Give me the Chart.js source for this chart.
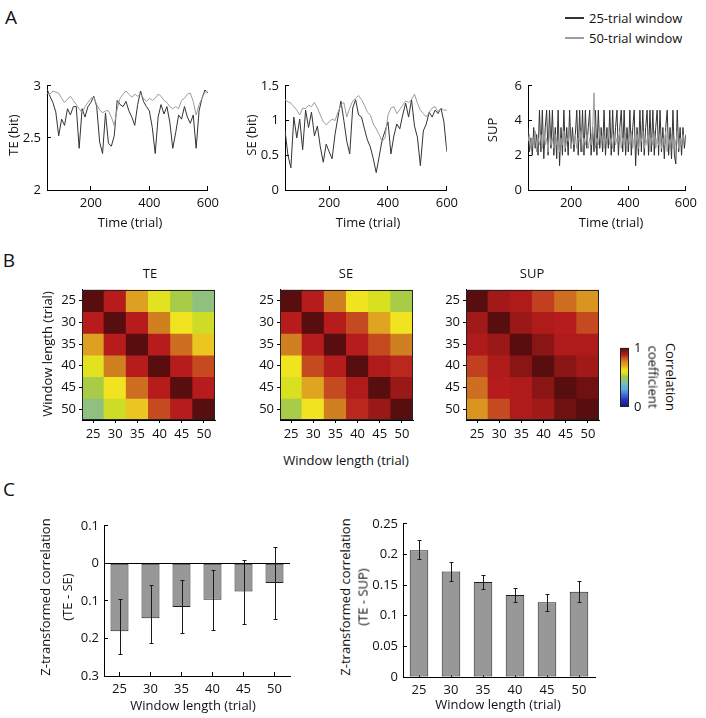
<!DOCTYPE html>
<html>
<head>
<meta charset="utf-8">
<script src="https://cdn.jsdelivr.net/npm/chart.js@4.4.1/dist/chart.umd.min.js"></script>
<style>
  body { margin: 0; background: #fff; }
  #fig { position: relative; width: 706px; height: 718px; overflow: hidden; font-family: 'Open Sans', sans-serif; color: #111; }
  #fig canvas { position: absolute; }
  .t { position: absolute; white-space: nowrap; font-size: 13px; line-height: 1; transform: translate(-50%, -50%); }
  .t.ccw { transform: translate(-50%, -50%) rotate(-90deg); }
  .t.cw { transform: translate(-50%, -50%) rotate(90deg); }
  .t.panel { font-size: 19px; }
  .t.left { transform: translate(0, -50%); }
  .leg { position: absolute; width: 19px; height: 2px; }
</style>
</head>
<body>
<div id="fig"></div>
<script>
// ---- data ----
const trials = [50,60,70,80,90,100,110,120,130,140,150,160,170,180,190,200,210,220,230,240,250,260,270,280,290,300,
  310,320,330,340,350,360,370,380,390,400,410,420,430,440,450,460,470,480,490,500,510,520,530,540,550,560,570,580,590,600];
const te25 = [2.97,2.90,2.84,2.75,2.52,2.68,2.62,2.78,2.72,2.80,
  2.80,2.40,2.78,2.70,2.80,2.84,2.90,2.80,2.46,2.35,
  2.74,2.45,2.42,2.52,2.86,2.82,2.80,2.85,2.76,2.70,
  2.62,2.82,2.95,2.85,2.80,2.76,2.60,2.35,2.70,2.82,
  2.73,2.80,2.65,2.40,2.55,2.72,2.68,2.80,2.70,2.64,
  2.72,2.40,2.76,2.88,2.96,2.93];
const te50 = [2.93,2.92,2.95,2.94,2.93,2.88,2.84,2.87,2.90,2.86,
  2.82,2.78,2.74,2.80,2.84,2.88,2.89,2.82,2.77,2.74,
  2.76,2.76,2.70,2.62,2.78,2.88,2.92,2.95,2.92,2.89,
  2.92,2.90,2.92,2.88,2.85,2.88,2.86,2.88,2.92,2.90,
  2.86,2.84,2.80,2.78,2.80,2.78,2.86,2.88,2.92,2.93,
  2.85,2.72,2.82,2.88,2.94,2.95];
const se25 = [0.86,0.50,0.32,1.05,0.75,1.02,0.58,1.15,0.90,1.12,
  0.78,0.92,0.62,0.40,0.66,0.55,0.45,0.80,1.05,1.28,
  1.00,0.70,0.52,1.18,1.30,1.08,1.05,0.88,0.72,0.62,
  0.45,0.25,0.48,0.72,0.85,0.98,0.52,0.78,0.95,0.88,
  1.08,1.25,1.05,1.30,0.92,0.76,0.35,0.85,0.95,1.12,
  1.05,1.15,1.10,1.18,0.98,0.55];
const se50 = [1.30,1.27,1.25,1.20,1.15,1.08,1.18,1.17,1.22,1.20,
  1.26,1.18,1.08,0.98,0.94,0.98,1.02,1.00,1.12,1.22,
  1.26,1.05,1.18,1.28,1.32,1.36,1.30,1.22,1.12,1.08,
  0.95,0.88,0.80,0.70,0.75,1.08,1.18,1.20,1.10,1.16,
  1.22,1.28,1.26,1.30,1.38,1.25,1.15,1.10,1.05,1.12,
  1.18,1.20,1.12,1.18,1.15,1.15];

const supTrials = [50,55,60,65,70,75,80,85,90,95,100,105,110,115,120,125,130,135,140,145,150,155,160,165,170,175,
  180,185,190,195,200,205,210,215,220,225,230,235,240,245,250,255,260,265,270,275,280,285,290,295,300,305,310,315,
  320,325,330,335,340,345,350,355,360,365,370,375,380,385,390,395,400,405,410,415,420,425,430,435,440,445,450,455,
  460,465,470,475,480,485,490,495,500,505,510,515,520,525,530,535,540,545,550,555,560,565,570,575,580,585,590,595,600];
const sup25 = [3.6,2.2,3.0,2.0,3.6,2.4,3.2,2.0,4.6,2.2,
  4.6,1.8,3.6,4.6,2.0,4.6,2.4,4.6,2.0,3.6,
  1.8,4.6,1.4,3.6,2.0,4.6,2.2,3.6,2.0,4.6,
  2.4,3.6,2.2,3.2,4.6,2.0,4.6,2.2,4.6,2.0,
  4.6,2.4,3.6,4.6,2.0,3.6,2.2,4.6,2.0,4.6,
  2.4,3.6,2.2,4.6,2.0,3.6,2.4,4.6,2.0,4.6,
  2.2,3.6,4.6,2.0,3.6,4.6,2.2,4.6,2.0,3.6,
  2.2,4.6,2.0,3.6,4.6,1.4,3.6,2.0,4.6,2.2,
  4.6,2.0,3.6,4.6,2.0,4.6,2.2,4.6,2.0,3.6,
  4.6,2.0,4.6,2.2,3.6,1.8,3.6,4.6,2.0,3.6,
  1.8,4.6,2.0,1.5,4.6,2.2,3.6,2.0,3.6,2.4,3.2];
const sup50 = [2.8,3.2,2.4,3.0,2.6,3.4,2.2,3.0,2.6,3.2,
  2.4,3.4,2.6,3.0,2.2,3.4,2.6,3.0,2.4,3.2,
  2.6,2.8,2.2,3.0,2.6,3.4,2.4,3.0,2.8,3.4,
  2.4,3.0,2.6,3.2,2.4,3.0,2.8,3.4,2.2,3.0,
  2.6,3.2,2.4,3.0,2.6,3.4,5.6,2.4,3.0,2.6,
  3.4,2.8,3.2,2.4,3.0,2.8,3.4,2.6,3.0,2.4,
  3.2,2.6,3.0,2.8,3.4,2.4,3.0,2.6,3.2,2.2,
  3.0,2.6,3.4,2.4,3.0,2.6,3.2,2.4,3.0,2.8,
  3.4,2.4,3.0,2.6,3.2,2.2,3.0,2.6,3.4,2.4,
  3.0,2.6,3.2,2.4,3.0,2.6,3.4,2.2,3.0,2.6,
  3.2,2.4,3.0,2.6,3.4,2.4,3.0,2.6,3.2,2.8,3.0];

const timeTicks = [200, 400, 600];
const teTicks = [2, 2.5, 3];
const seTicks = [0, 0.5, 1, 1.5];
const supTicks = [0, 2, 4, 6];

const windowLengths = [25, 30, 35, 40, 45, 50];
const corrTE = [
  [1.00, 0.88, 0.72, 0.59, 0.52, 0.46],
  [0.88, 1.00, 0.88, 0.78, 0.62, 0.56],
  [0.72, 0.88, 1.00, 0.88, 0.80, 0.66],
  [0.59, 0.78, 0.88, 1.00, 0.88, 0.84],
  [0.52, 0.62, 0.80, 0.88, 1.00, 0.88],
  [0.46, 0.56, 0.66, 0.84, 0.88, 1.00]];
const corrSE = [
  [1.00, 0.88, 0.78, 0.62, 0.57, 0.52],
  [0.88, 1.00, 0.88, 0.84, 0.71, 0.62],
  [0.78, 0.88, 1.00, 0.88, 0.84, 0.78],
  [0.62, 0.84, 0.88, 1.00, 0.89, 0.87],
  [0.57, 0.71, 0.84, 0.89, 1.00, 0.92],
  [0.52, 0.62, 0.78, 0.87, 0.92, 1.00]];
const corrSUP = [
  [1.00, 0.91, 0.89, 0.85, 0.80, 0.74],
  [0.91, 1.00, 0.92, 0.89, 0.88, 0.84],
  [0.89, 0.92, 1.00, 0.94, 0.89, 0.89],
  [0.85, 0.89, 0.94, 1.00, 0.94, 0.91],
  [0.80, 0.88, 0.89, 0.94, 1.00, 0.97],
  [0.74, 0.84, 0.89, 0.91, 0.97, 1.00]];
const corrTicks = [0, 1];

const zTeSe = [-0.181, -0.146, -0.116, -0.097, -0.075, -0.052];
const zTeSeLow = [-0.242, -0.211, -0.186, -0.177, -0.162, -0.147];
const zTeSeHigh = [-0.095, -0.058, -0.044, -0.017, 0.009, 0.043];
const zTeSeTicks = [-0.3, -0.2, -0.1, 0, 0.1];
const zTeSup = [0.207, 0.172, 0.155, 0.134, 0.122, 0.139];
const zTeSupLow = [0.192, 0.156, 0.143, 0.123, 0.108, 0.122];
const zTeSupHigh = [0.223, 0.188, 0.167, 0.146, 0.136, 0.156];
const zTeSupTicks = [0, 0.05, 0.1, 0.15, 0.2, 0.25];

// colour map (muted jet, as in the colour bar)
const cmap = [
  [0.00, [30, 20, 110]], [0.12, [40, 50, 190]], [0.30, [90, 170, 230]], [0.42, [130, 195, 160]],
  [0.46, [144, 192, 128]], [0.52, [168, 204, 72]], [0.57, [216, 224, 32]], [0.62, [240, 228, 32]],
  [0.70, [226, 170, 32]], [0.78, [208, 128, 32]], [0.84, [198, 74, 32]], [0.88, [182, 28, 28]],
  [0.92, [155, 24, 24]], [0.96, [120, 18, 18]], [1.00, [88, 14, 14]]];
function rgb(c) { return 'rgb(' + c.map(Math.round).join(',') + ')'; }
function corrColor(v) {
  for (let i = 1; i < cmap.length; i++) {
    if (v <= cmap[i][0]) {
      const [a, ca] = cmap[i - 1], [b, cb] = cmap[i];
      const f = (v - a) / (b - a);
      return rgb(ca.map((c, k) => c + (cb[k] - c) * f));
    }
  }
  return rgb(cmap[cmap.length - 1][1]);
}

// ---- helpers ----
const fig = document.getElementById('fig');
const tickFont = { family: "'Open Sans', sans-serif", size: 13 };
const DARK = '#333333', GRAY = '#9d9d9d';

function text(s, x, y, cls) {
  const d = document.createElement('div');
  d.className = 't ' + (cls || '');
  d.textContent = s;
  d.style.left = x + 'px';
  d.style.top = y + 'px';
  fig.appendChild(d);
}

function makeChart(b, config, layoutPad) {
  const cv = document.createElement('canvas');
  const w = b.padL + b.w + b.padR, h = b.padT + b.h + b.padB;
  cv.width = w; cv.height = h;
  cv.style.left = (b.x - b.padL) + 'px';
  cv.style.top = (b.y - b.padT) + 'px';
  cv.style.width = w + 'px';
  cv.style.height = h + 'px';
  fig.appendChild(cv);
  config.options = Object.assign({
    responsive: false, animation: false, devicePixelRatio: 1, events: [],
    layout: { padding: layoutPad || { top: b.padT, right: b.padR, left: 0, bottom: 0 } },
  }, config.options);
  config.options.plugins = Object.assign({ legend: { display: false }, tooltip: { enabled: false } }, config.options.plugins);
  return new Chart(cv, config);
}

function axis(b, horizontal, tickVals, extra) {
  return Object.assign({
    afterBuildTicks: s => { if (tickVals) s.ticks = tickVals.map(v => ({ value: v })); },
    afterFit: s => { if (horizontal) s.height = b.padB; else s.width = b.padL; },
    grid: { drawOnChartArea: false, color: '#000', tickColor: '#000', tickLength: -4 },
    border: { color: '#000', width: 1 },
    ticks: { font: tickFont, color: '#111', padding: horizontal ? 9 : 10, maxRotation: 0, autoSkip: false,
      callback: v => String(v) }
  }, extra);
}
const windowTickLabel = (v, i) => String(windowLengths[i]);

const framePlugin = {
  id: 'frame',
  afterDatasetsDraw(chart) {
    const a = chart.chartArea, c = chart.ctx;
    c.save();
    c.strokeStyle = '#222';
    c.lineWidth = 1;
    c.strokeRect(Math.round(a.left) + 0.5, Math.round(a.top) + 0.5, Math.round(a.right - a.left) - 1, Math.round(a.bottom - a.top) - 1);
    c.restore();
  }
};

function errorBars(low, high) {
  return {
    id: 'errorBars',
    afterDatasetsDraw(chart) {
      const { ctx, scales: { x, y } } = chart;
      ctx.save();
      ctx.strokeStyle = '#1a1a1a';
      ctx.lineWidth = 1;
      low.forEach((lo, i) => {
        const px = Math.round(x.getPixelForValue(i)) + 0.5;
        const y1 = Math.round(y.getPixelForValue(lo)) + 0.5, y2 = Math.round(y.getPixelForValue(high[i])) + 0.5;
        ctx.beginPath();
        ctx.moveTo(px, y1); ctx.lineTo(px, y2);
        ctx.moveTo(px - 2, y1); ctx.lineTo(px + 2, y1);
        ctx.moveTo(px - 2, y2); ctx.lineTo(px + 2, y2);
        ctx.stroke();
      });
      ctx.restore();
    }
  };
}

// ---- panel A: time courses ----
function timeCourse(b, xs, dark, light, yMin, yMax, yTicks) {
  makeChart(b, {
    type: 'line',
    data: {
      datasets: [
        { label: '25-trial window', data: xs.map((t, i) => ({ x: t, y: dark[i] })), borderColor: DARK, borderWidth: 1, pointRadius: 0, tension: 0, order: 1 },
        { label: '50-trial window', data: xs.map((t, i) => ({ x: t, y: light[i] })), borderColor: GRAY, borderWidth: 1, pointRadius: 0, tension: 0, order: 0 }
      ]
    },
    options: {
      scales: {
        x: axis(b, true, timeTicks, { type: 'linear', min: 50, max: 600 }),
        y: axis(b, false, yTicks, { type: 'linear', min: yMin, max: yMax })
      }
    }
  });
}
timeCourse({ x: 47, y: 80, w: 165, h: 110, padL: 46, padR: 16, padT: 12, padB: 24 }, trials, te25, te50, 2, 3, teTicks);
timeCourse({ x: 285, y: 80, w: 166, h: 110, padL: 46, padR: 16, padT: 12, padB: 24 }, trials, se25, se50, 0, 1.5, seTicks);
timeCourse({ x: 528, y: 80, w: 167, h: 110, padL: 46, padR: 11, padT: 12, padB: 24 }, supTrials, sup25, sup50, 0, 6, supTicks);

// ---- panel B: correlation matrices ----
function heatmap(b, matrix) {
  makeChart(b, {
    type: 'bar',
    data: {
      labels: windowLengths.map(String),
      datasets: windowLengths.map((w, r) => ({
        data: windowLengths.map(() => [r - 0.5, r + 0.5]),
        backgroundColor: matrix[r].map(corrColor),
        borderWidth: 0,
        inflateAmount: 0.5
      }))
    },
    options: {
      datasets: { bar: { barPercentage: 1, categoryPercentage: 1, grouped: false, borderSkipped: false } },
      scales: {
        x: axis(b, true, null, { type: 'category', grid: { drawOnChartArea: false, offset: false, color: '#000', tickColor: '#000', tickLength: 3 },
          ticks: { font: tickFont, color: '#111', padding: 3, maxRotation: 0, autoSkip: false, callback: windowTickLabel } }),
        y: axis(b, false, windowLengths.map((w, i) => i), { type: 'linear', min: -0.5, max: 5.5, reverse: true,
          grid: { drawOnChartArea: false, color: '#000', tickColor: '#000', tickLength: 3 },
          ticks: { font: tickFont, color: '#111', padding: 3, autoSkip: false, callback: v => String(windowLengths[v]) } })
      }
    },
    plugins: [framePlugin]
  });
}
heatmap({ x: 82, y: 287, w: 133, h: 133, padL: 30, padR: 8, padT: 8, padB: 22 }, corrTE);
heatmap({ x: 280, y: 287, w: 133, h: 133, padL: 30, padR: 8, padT: 8, padB: 22 }, corrSE);
heatmap({ x: 466, y: 287, w: 133, h: 133, padL: 30, padR: 8, padT: 8, padB: 22 }, corrSUP);

// colour bar
const cbBox = { x: 620, y: 343, w: 9, h: 69, padL: 0, padR: 20, padT: 8, padB: 8 };
makeChart(cbBox, {
  type: 'bar',
  data: {
    labels: [''],
    datasets: [{
      data: [[0, 1]],
      borderWidth: 0,
      backgroundColor: ctx => {
        const a = ctx.chart.chartArea;
        if (!a) return null;
        const g = ctx.chart.ctx.createLinearGradient(0, a.bottom, 0, a.top);
        cmap.forEach(([v, c]) => g.addColorStop(v, rgb(c)));
        return g;
      }
    }]
  },
  options: {
    datasets: { bar: { barPercentage: 1, categoryPercentage: 1, borderSkipped: false } },
    scales: {
      x: { display: false },
      y: axis(cbBox, false, corrTicks, { type: 'linear', min: 0, max: 1, position: 'right',
        afterFit: s => { s.width = cbBox.padR; },
        grid: { drawOnChartArea: false, color: '#000', tickColor: '#000', tickLength: 0 },
        border: { display: false },
        ticks: { font: tickFont, color: '#111', padding: 5, autoSkip: false, callback: v => String(v) } })
    }
  },
  plugins: [framePlugin]
}, { top: cbBox.padT, bottom: cbBox.padB, left: 0, right: 0 });

// ---- panel C: z-transformed correlations ----
function barPanel(b, values, low, high, yMin, yMax, yTicks, fmt, zeroLine) {
  makeChart(b, {
    type: 'bar',
    data: {
      labels: windowLengths.map(String),
      datasets: [{ data: values, backgroundColor: '#989898', borderColor: '#1e1e1e', borderWidth: 1, borderSkipped: false,
        barPercentage: 0.58, categoryPercentage: 1 }]
    },
    options: {
      scales: {
        x: axis(b, true, null, { type: 'category',
          grid: { drawOnChartArea: false, offset: false, color: '#000', tickColor: '#000', tickLength: -4 },
          ticks: { font: tickFont, color: '#111', padding: 9, maxRotation: 0, autoSkip: false, callback: windowTickLabel } }),
        y: axis(b, false, yTicks, { type: 'linear', min: yMin, max: yMax,
          grid: { drawOnChartArea: zeroLine, offset: false, tickColor: '#000', tickLength: -4,
            color: ctx => (ctx.tick && ctx.tick.value === 0) ? '#000' : 'rgba(0,0,0,0)' },
          ticks: { font: tickFont, color: '#111', padding: 9, autoSkip: false, callback: fmt } })
      }
    },
    plugins: [errorBars(low, high)]
  });
}
barPanel({ x: 104, y: 519, w: 186, h: 157, padL: 42, padR: 12, padT: 10, padB: 24 }, zTeSe, zTeSeLow, zTeSeHigh,
  -0.3, 0.1, zTeSeTicks, v => String(Math.abs(Math.round(v * 10) / 10)), true);
barPanel({ x: 403, y: 517, w: 192, h: 160, padL: 42, padR: 12, padT: 10, padB: 24 }, zTeSup, zTeSupLow, zTeSupHigh,
  0, 0.25, zTeSupTicks, v => String(+v.toFixed(2)), false);

// ---- text ----
text('A', 11, 17, 'panel');
text('B', 9, 260, 'panel');
text('C', 9, 489, 'panel');

const l1 = document.createElement('div'); l1.className = 'leg'; l1.style.cssText = 'left:565px;top:17px;background:' + DARK; fig.appendChild(l1);
const l2 = document.createElement('div'); l2.className = 'leg'; l2.style.cssText = 'left:565px;top:37px;background:' + GRAY; fig.appendChild(l2);
text('25-trial window', 589, 18, 'left');
text('50-trial window', 589, 38, 'left');

text('TE (bit)', 13, 135, 'ccw');
text('SE (bit)', 251, 135, 'ccw');
text('SUP', 492, 130, 'ccw');
text('Time (trial)', 130, 222);
text('Time (trial)', 368, 222);
text('Time (trial)', 611, 222);

text('TE', 150, 273);
text('SE', 346, 273);
text('SUP', 532, 273);
text('Window length (trial)', 47, 354, 'ccw');
text('Window length (trial)', 346, 460);
text('Correlation', 670, 377, 'cw');
text('coefficient', 653, 377, 'cw');

text('Z-transformed correlation', 45, 597, 'ccw');
text('(TE - SE)', 67, 597, 'ccw');
text('Window length (trial)', 193, 705);
text('Z-transformed correlation', 345, 597, 'ccw');
text('(TE - SUP)', 363, 597, 'ccw');
text('Window length (trial)', 498, 704);
</script>
</body>
</html>
